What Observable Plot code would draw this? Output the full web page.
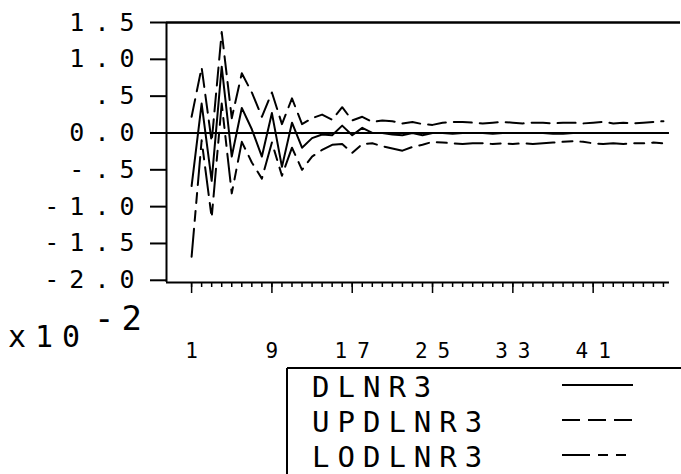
<!DOCTYPE html>
<html><head><meta charset="utf-8">
<script src="https://cdn.jsdelivr.net/npm/d3@7"></script>
<script src="https://cdn.jsdelivr.net/npm/@observablehq/plot@0.6"></script>
<style>
body{margin:0;background:#fff;}
#wrap{position:relative;width:681px;height:474px;overflow:hidden;background:#fff;}
#wrap svg text{font-family:'DejaVu Sans Mono',monospace;}
.ov{position:absolute;left:0;top:0;}
</style></head><body><div id="wrap"></div>
<script>
const lags = [1,2,3,4,5,6,7,8,9,10,11,12,13,14,15,16,17,18,19,20,21,22,23,24,25,26,27,28,29,30,31,32,33,34,35,36,37,38,39,40,41,42,43,44,45,46,47,48];
const dlnr3 = [-0.72,0.40,-0.65,0.90,-0.32,0.34,0.05,-0.32,0.27,-0.46,0.14,-0.20,-0.07,-0.02,-0.03,0.10,-0.03,0.07,0.00,0.00,-0.02,-0.03,0.00,-0.03,0.00,
  0.00,-0.01,0.00,0.00,0.00,-0.01,0.00,0.00,0.00,0.00,0.00,-0.01,-0.01,0.00,0.00,0.00,0.00,0.00,0.00,0.00,0.00,0.00,0.00];
const updlnr3 = [0.22,0.89,-0.12,1.37,0.20,0.81,0.55,0.22,0.55,0.12,0.47,0.12,0.20,0.25,0.18,0.35,0.17,0.22,0.15,0.17,0.16,0.13,0.15,0.12,0.11,
  0.14,0.15,0.15,0.14,0.13,0.14,0.15,0.14,0.13,0.14,0.14,0.13,0.14,0.14,0.13,0.14,0.15,0.13,0.14,0.13,0.14,0.15,0.16];
const lodlnr3 = [-1.68,-0.10,-1.15,0.40,-0.82,-0.12,-0.40,-0.62,-0.13,-0.58,-0.20,-0.50,-0.32,-0.23,-0.16,-0.15,-0.27,-0.15,-0.14,-0.18,-0.21,-0.24,-0.19,-0.16,-0.12,
  -0.13,-0.14,-0.15,-0.14,-0.14,-0.15,-0.14,-0.15,-0.14,-0.15,-0.14,-0.13,-0.12,-0.11,-0.12,-0.14,-0.15,-0.14,-0.15,-0.14,-0.14,-0.13,-0.14];
const yTicks = [1.5,1.0,0.5,0.0,-0.5,-1.0,-1.5,-2.0];
const yTickLabels = ["1.5","1.0",".5","0.0","-.5","-1.0","-1.5","-2.0"];
const xMajorTicks = [1,9,17,25,33,41];
const seriesNames = ["DLNR3","UPDLNR3","LODLNR3"];
const seriesDash = ["none","18 8","28 8 10 8 10 8"];
const scaleBase = "x10";
const scaleExp = "-2";

const seriesValues = [dlnr3, updlnr3, lodlnr3];
const rows = seriesNames.map((name, s) => lags.map((lag, i) => ({series: name, lag, value: seriesValues[s][i]})));

const chart = Plot.plot({
  width: 681, height: 474,
  marginLeft: 166, marginRight: 1, marginTop: 22, marginBottom: 192,
  x: {domain: [-1.5, 49.7], label: null},
  y: {domain: [-2.03, 1.5], label: null},
  style: {background: "white", color: "black", overflow: "visible"},
  marks: [
    Plot.ruleY([1.5], {x1: -1.5, x2: 49.7, strokeWidth: 2.5}),
    Plot.ruleX([-1.5], {y1: -2.03, y2: 1.5, strokeWidth: 2}),
    Plot.ruleY([-2.03], {x1: -1.5, x2: 48.6, strokeWidth: 2}),
    Plot.ruleY([0], {x1: -1.5, x2: 48.6, strokeWidth: 2}),
    Plot.axisY({ticks: yTicks, tickSize: 16, tickPadding: 6, strokeWidth: 2,
      tickFormat: d => yTickLabels[yTicks.indexOf(d)]}),
    Plot.axisX({ticks: lags, tickSize: 5, strokeWidth: 1.5, tickFormat: () => ""}),
    Plot.axisX({ticks: xMajorTicks, tickSize: 11, tickPadding: 50, strokeWidth: 1.5,
      tickFormat: d => String(d)}),
    ...rows.map((r, s) => Plot.line(r, {x: "lag", y: "value", stroke: "black", strokeWidth: 2,
      strokeDasharray: seriesDash[s] === "none" ? null : seriesDash[s]}))
  ]
});
const wrap = document.getElementById("wrap");
wrap.appendChild(chart);
const svg = d3.select(chart);
svg.selectAll('g[aria-label="y-axis tick label"]').attr("font-size", null);
svg.selectAll('g[aria-label="y-axis tick label"] text').style("font-size", "25px").style("letter-spacing", "10px");
svg.selectAll('g[aria-label="x-axis tick label"] text').style("font-size", "21px").style("letter-spacing", "10px").attr("dx", 5);

// overlay: exponent and legend
const ov = d3.select(wrap).append("svg").attr("class", "ov").attr("width", 681).attr("height", 474)
  .style("font-family", "'DejaVu Sans Mono',monospace");
ov.append("text").attr("x", 8).attr("y", 347).attr("font-size", 30).style("letter-spacing", "9px").text(scaleBase);
ov.append("text").attr("x", 94).attr("y", 330).attr("font-size", 34).style("letter-spacing", "7px").text(scaleExp);

const lg = ov.append("g").attr("transform", "translate(287,368)");
lg.append("line").attr("x1", 0).attr("x2", 0).attr("y1", 0).attr("y2", 110).attr("stroke", "black").attr("stroke-width", 2);
lg.append("line").attr("x1", 0).attr("x2", 400).attr("y1", 0).attr("y2", 0).attr("stroke", "black").attr("stroke-width", 2);
const items = lg.selectAll("g.item").data(seriesNames).join("g").attr("class", "item")
  .attr("transform", (d, i) => `translate(0,${i * 35})`);
items.append("text").attr("x", 25).attr("y", 29).attr("font-size", 29).style("letter-spacing", "8px").text(d => d);
items.append("line").attr("x1", 275).attr("x2", 346).attr("y1", 17).attr("y2", 17)
  .attr("stroke", "black").attr("stroke-width", 2)
  .attr("stroke-dasharray", (d, i) => seriesDash[i] === "none" ? null : seriesDash[i]);
</script></body></html>
